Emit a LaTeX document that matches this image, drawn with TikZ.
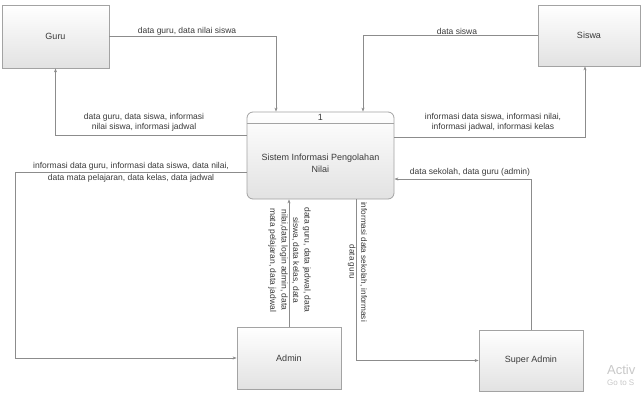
\documentclass[tikz,border=0pt]{standalone}
\usepackage{fontspec}
\setmainfont{Liberation Sans}
\usetikzlibrary{arrows.meta}
\definecolor{edge}{HTML}{8C8C8C}
\definecolor{txt}{HTML}{3A3A3A}
\definecolor{boxbot}{HTML}{E2E2E2}
\definecolor{wm}{HTML}{C8C8C8}
\begin{document}
\begin{tikzpicture}[x=1pt,y=-1pt,
  entity/.style={draw=edge!80,line width=0.8pt,top color=white,bottom color=boxbot,
    minimum width=#1,inner sep=0pt,font=\fontsize{9}{10}\selectfont,text=txt},
  procbox/.style={draw=edge!80,line width=0.8pt,rounded corners=6pt,top color=white,bottom color=boxbot,
    minimum width=147pt,minimum height=87pt,inner sep=0pt},
  flow/.style={draw=edge,line width=0.7pt,-{Stealth[length=4pt,width=3pt]}},
  lbl/.style={font=\fontsize{8.5}{10.5}\selectfont,text=txt,align=center,inner sep=0pt},
  lbltight/.style={lbl,font=\fontsize{8.5}{9.6}\selectfont}]
\useasboundingbox (0,0) rectangle (641,399);
\fill[white] (0,0) rectangle (641,399);

% entities
\node[entity=107pt,minimum height=63pt] (guru) at (55.5,36.5) {Guru};
\node[entity=102pt,minimum height=61pt] (siswa) at (589,35.5) {Siswa};
\node[entity=104pt,minimum height=62pt] (admin) at (289,358) {Admin};
\node[entity=104pt,minimum height=61pt] (sadmin) at (531,360.5) {Super Admin};

% process
\node[procbox] (proc) at (320.5,155.5) {};
\draw[edge!80,line width=0.8pt] (proc.west |- 0,123) -- (proc.east |- 0,123);
\node[font=\fontsize{9}{10}\selectfont,text=txt,inner sep=0pt] (pnum) at (320.5,117.5) {1};
\node[font=\fontsize{9}{11.5}\selectfont,text=txt,align=center,inner sep=0pt] (ptext) at (320.5,163.5)
  {Sistem Informasi Pengolahan\\Nilai};

% flows
\draw[flow] (guru.east) -| (proc.north -| 276,0);
\draw[flow] (proc.west |- 0,135) -| (guru.south);
\draw[flow] (siswa.west) -| (proc.north -| 363,0);
\draw[flow] (proc.east |- 0,137) -| (siswa.south -| 585,0);
\draw[flow] (proc.west |- 0,172) -| (15,358) -- (admin.west);
\draw[flow] (admin.north) -- (proc.south -| admin.north);
\draw[flow] (proc.south -| 356,0) |- (sadmin.west);
\draw[flow] (sadmin.north) |- (proc.east |- 0,179);

% labels
\node[lbl] (l1) at (187,31) {data guru, data nilai siswa};
\node[lbltight] (l2) at (144,122.5) {data guru, data siswa, informasi\\nilai siswa, informasi jadwal};
\node[lbl] (l3) at (457,31) {data siswa};
\node[lbltight] (l4) at (493,122.5) {informasi data siswa, informasi nilai,\\informasi jadwal, informasi kelas};
\node[lbl,font=\fontsize{8.5}{12}\selectfont] (l5) at (131,172) {informasi data guru, informasi data siswa, data nilai,\\data mata pelajaran, data kelas, data jadwal};
\node[lbl,rotate=-90,font=\fontsize{8.5}{11.5}\selectfont] (l6) at (289.5,260) {data guru, data jadwal, data\\siswa, data kelas, data\\nilai,data login admin, data\\mata pelajaran, data jadwal};
\node[lbl,rotate=-90,font=\fontsize{8.2}{11.5}\selectfont] (l7) at (357.5,262) {informasi data sekolah, informasi\\data guru};
\node[lbl] (l8) at (470,172) {data sekolah, data guru (admin)};

% watermark (cut off at the edge in the reference)
\node[anchor=base west,text=wm,font=\fontsize{13}{13}\selectfont,inner sep=0pt] (wm1) at (607,374) {Activ};
\node[anchor=base west,text=wm,font=\fontsize{8}{8}\selectfont,inner sep=0pt] (wm2) at (607,385) {Go to S};
\end{tikzpicture}
\end{document}
